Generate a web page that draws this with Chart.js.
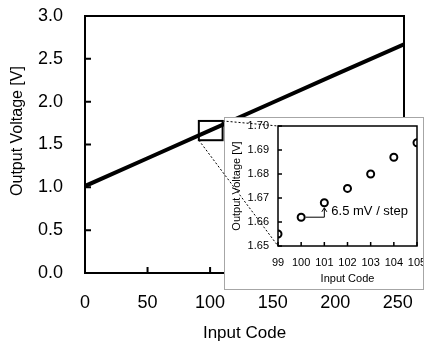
<!DOCTYPE html>
<html><head><meta charset="utf-8">
<script src="https://cdn.jsdelivr.net/npm/chart.js@4/dist/chart.umd.min.js"></script>
<style>
html,body{margin:0;padding:0;background:#fff;}
#wrap{position:relative;width:424px;height:342px;overflow:hidden;background:#fff;}
#main{position:absolute;left:0;top:0;width:424px;height:342px;}
#insetBox{position:absolute;left:224px;top:117px;width:200px;height:173px;box-sizing:border-box;border:1px solid #a6a6a6;background:#fff;}
#inset{position:absolute;left:0;top:0;width:198px;height:171px;}
#overlay{position:absolute;left:0;top:0;width:424px;height:342px;pointer-events:none;}
</style></head>
<body><div id="wrap">
<canvas id="main" width="424" height="342"></canvas>
<div id="insetBox"><canvas id="inset" width="198" height="171"></canvas></div>
<canvas id="overlay" width="424" height="342"></canvas>
</div>
<script>
// ---- data ----
const mainCodes = [0, 50, 100, 150, 200, 255];
const mainVolts = [1.015, 1.34, 1.665, 1.99, 2.315, 2.67];
const mainXTicks = [0, 50, 100, 150, 200, 250];
const mainYTicks = [0, 0.5, 1.0, 1.5, 2.0, 2.5, 3.0];
const insetCodes = [99, 100, 101, 102, 103, 104, 105];
const insetVolts = [1.655, 1.662, 1.668, 1.674, 1.680, 1.687, 1.693];
const insetXTicks = [99, 100, 101, 102, 103, 104, 105];
const insetYTicks = [1.65, 1.66, 1.67, 1.68, 1.69, 1.70];
const zoomCodes = [91, 110];
const zoomVolts = [1.55, 1.775];
const stepFrom = [100, 1.662];
const stepTo = [101, 1.668];
const stepLabel = '6.5 mV / step';
const mainXTitle = 'Input Code';
const mainYTitle = 'Output Voltage [V]';
const insetXTitle = 'Input Code';
const insetYTitle = 'Output Voltage [V]';

const FONT = '"Liberation Sans", Arial, sans-serif';
Chart.defaults.font.family = FONT;
Chart.defaults.color = '#000';

function fixTicks(list) {
  return function (scale) { scale.ticks = list.map(v => ({ value: v })); };
}

// inward tick marks + full frame
const frameMain = {
  id: 'frameMain',
  afterDraw(chart) {
    const { ctx, chartArea: a, scales } = chart;
    ctx.save();
    ctx.strokeStyle = '#000';
    ctx.lineWidth = 2;
    ctx.strokeRect(a.left, a.top, a.right - a.left, a.bottom - a.top);
    ctx.beginPath();
    mainXTicks.forEach(v => {
      const x = scales.x.getPixelForValue(v);
      ctx.moveTo(x, a.bottom); ctx.lineTo(x, a.bottom - 6);
    });
    mainYTicks.forEach(v => {
      const y = scales.y.getPixelForValue(v);
      ctx.moveTo(a.left, y); ctx.lineTo(a.left + 6, y);
    });
    ctx.stroke();
    // zoom box
    const x0 = scales.x.getPixelForValue(zoomCodes[0]);
    const x1 = scales.x.getPixelForValue(zoomCodes[1]);
    const y0 = scales.y.getPixelForValue(zoomVolts[1]);
    const y1 = scales.y.getPixelForValue(zoomVolts[0]);
    ctx.lineWidth = 2;
    ctx.strokeRect(x0, y0, x1 - x0, y1 - y0);
    // y title
    ctx.fillStyle = '#000';
    ctx.font = '16px ' + FONT;
    ctx.textAlign = 'center';
    ctx.textBaseline = 'middle';
    ctx.translate(18, 131);
    ctx.rotate(-Math.PI / 2);
    ctx.fillText(mainYTitle, 0, 0);
    ctx.restore();
  }
};

const mainChart = new Chart(document.getElementById('main'), {
  type: 'line',
  data: {
    datasets: [{
      data: mainCodes.map((c, i) => ({ x: c, y: mainVolts[i] })),
      borderColor: '#000', borderWidth: 4, pointRadius: 0, tension: 0, fill: false
    }]
  },
  options: {
    responsive: false, animation: false, devicePixelRatio: 1,
    layout: { padding: { left: 0, top: 16, right: 20, bottom: 0 } },
    plugins: { legend: { display: false }, tooltip: { enabled: false } },
    scales: {
      x: {
        type: 'linear', min: 0, max: 255,
        afterBuildTicks: fixTicks(mainXTicks),
        afterFit(s) { s.height = 69; s.paddingLeft = 0; s.paddingRight = 0; },
        grid: { display: false, drawTicks: false }, border: { display: false },
        ticks: { padding: 19, font: { size: 18 }, maxRotation: 0, autoSkip: false },
        title: { display: true, text: mainXTitle, font: { size: 17, lineHeight: 1 }, padding: { top: 0, bottom: 0 } }
      },
      y: {
        type: 'linear', min: 0, max: 3,
        afterBuildTicks: fixTicks(mainYTicks),
        afterFit(s) { s.width = 85; s.paddingTop = 0; s.paddingBottom = 0; },
        grid: { display: false, drawTicks: false }, border: { display: false },
        ticks: { padding: 22, font: { size: 18 }, callback: v => v.toFixed(1) }
      }
    }
  },
  plugins: [frameMain]
});

const frameInset = {
  id: 'frameInset',
  afterDraw(chart) {
    const { ctx, chartArea: a, scales } = chart;
    ctx.save();
    ctx.strokeStyle = '#000';
    ctx.lineWidth = 1.5;
    ctx.strokeRect(a.left, a.top, a.right - a.left, a.bottom - a.top);
    ctx.beginPath();
    insetXTicks.forEach(v => {
      const x = scales.x.getPixelForValue(v);
      ctx.moveTo(x, a.bottom); ctx.lineTo(x, a.bottom - 4);
    });
    insetYTicks.forEach(v => {
      const y = scales.y.getPixelForValue(v);
      ctx.moveTo(a.left, y); ctx.lineTo(a.left + 4, y);
    });
    ctx.stroke();
    // step annotation
    const r = 4.5;
    const xa = scales.x.getPixelForValue(stepFrom[0]);
    const ya = scales.y.getPixelForValue(stepFrom[1]);
    const xb = scales.x.getPixelForValue(stepTo[0]);
    const yb = scales.y.getPixelForValue(stepTo[1]) + r + 0.5;
    ctx.lineWidth = 1;
    ctx.beginPath();
    ctx.moveTo(xa + r, ya); ctx.lineTo(xb, ya); ctx.lineTo(xb, yb);
    ctx.moveTo(xb - 2.5, yb + 4); ctx.lineTo(xb, yb); ctx.lineTo(xb + 2.5, yb + 4);
    ctx.stroke();
    ctx.fillStyle = '#000';
    ctx.font = '13px ' + FONT;
    ctx.textAlign = 'left';
    ctx.textBaseline = 'middle';
    ctx.fillText(stepLabel, xb + 7, scales.y.getPixelForValue(1.6643));
    ctx.restore();
  }
};

const insetChart = new Chart(document.getElementById('inset'), {
  type: 'scatter',
  data: {
    datasets: [{
      data: insetCodes.map((c, i) => ({ x: c, y: insetVolts[i] })),
      borderColor: '#000', backgroundColor: 'rgba(255,255,255,0)',
      borderWidth: 2, pointRadius: 3.5, pointStyle: 'circle', showLine: false
    }]
  },
  options: {
    responsive: false, animation: false, devicePixelRatio: 1,
    layout: { padding: { left: 0, top: 8, right: 6, bottom: 0 } },
    plugins: { legend: { display: false }, tooltip: { enabled: false } },
    scales: {
      x: {
        type: 'linear', min: 99, max: 105,
        afterBuildTicks: fixTicks(insetXTicks),
        afterFit(s) { s.height = 43; s.paddingLeft = 0; s.paddingRight = 0; },
        grid: { display: false, drawTicks: false }, border: { display: false },
        ticks: { padding: 10, font: { size: 11 }, maxRotation: 0, autoSkip: false },
        title: { display: true, text: insetXTitle, font: { size: 11, lineHeight: 1 }, padding: { top: 0, bottom: 4.5 } }
      },
      y: {
        type: 'linear', min: 1.65, max: 1.70,
        afterBuildTicks: fixTicks(insetYTicks),
        afterFit(s) { s.width = 53; s.paddingTop = 0; s.paddingBottom = 0; },
        grid: { display: false, drawTicks: false }, border: { display: false },
        ticks: { padding: 9, font: { size: 11 }, callback: v => v.toFixed(2) },
        title: { display: true, text: insetYTitle, font: { size: 11, lineHeight: 1 }, padding: { top: 6.5, bottom: 0 } }
      }
    }
  },
  plugins: [frameInset]
});

// dashed connector lines between zoom box and inset plot
(function drawConnectors() {
  const ctx = document.getElementById('overlay').getContext('2d');
  const ox = 225, oy = 118;
  const mx = mainChart.scales.x, my = mainChart.scales.y;
  const ix = insetChart.scales.x, iy = insetChart.scales.y;
  ctx.strokeStyle = '#000';
  ctx.lineWidth = 1;
  ctx.setLineDash([2, 2]);
  ctx.beginPath();
  ctx.moveTo(mx.getPixelForValue(zoomCodes[1]), my.getPixelForValue(zoomVolts[1]));
  ctx.lineTo(ox + ix.getPixelForValue(insetXTicks[0]), oy + iy.getPixelForValue(1.70));
  ctx.moveTo(mx.getPixelForValue(zoomCodes[0]), my.getPixelForValue(zoomVolts[0]));
  ctx.lineTo(ox + ix.getPixelForValue(insetXTicks[0]), oy + iy.getPixelForValue(1.65));
  ctx.stroke();
})();
</script>
</body></html>
